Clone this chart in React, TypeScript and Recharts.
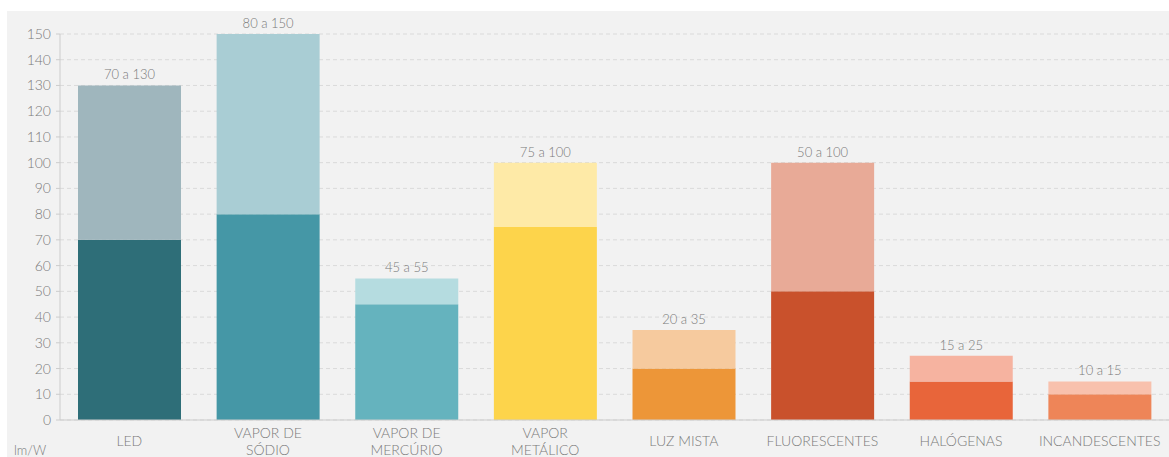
import { BarChart, Bar, XAxis, YAxis, CartesianGrid, Cell, LabelList } from 'recharts';

const categories = ['LED', 'VAPOR DE|SÓDIO', 'VAPOR DE|MERCÚRIO', 'VAPOR|METÁLICO', 'LUZ MISTA', 'FLUORESCENTES', 'HALÓGENAS', 'INCANDESCENTES'];
const minValues = [70, 80, 45, 75, 20, 50, 15, 10];
const maxValues = [130, 150, 55, 100, 35, 100, 25, 15];
const yTicks = [0, 10, 20, 30, 40, 50, 60, 70, 80, 90, 100, 110, 120, 130, 140, 150];

const baseColors = ['#2e6e78', '#4597a6', '#65b3be', '#fdd44b', '#ed9638', '#c9512c', '#e8653a', '#ee8558'];
const topColors = ['#9fb6bd', '#a9cdd4', '#b5dce0', '#feeaa7', '#f6ca9e', '#e8aa97', '#f6b3a0', '#f8c1ad'];

const data = categories.map((name, i) => ({
  name,
  min: minValues[i],
  max: maxValues[i],
  base: minValues[i],
  extra: maxValues[i] - minValues[i],
}));

const FONT = 'Lato, "Open Sans", sans-serif';

function CategoryTick(props: any) {
  const { x, y, payload } = props;
  const lines = String(payload.value).split('|');
  const startY = lines.length === 1 ? 18 : 10;
  return (
    <g transform={`translate(${x},${y})`}>
      {lines.map((l, i) => (
        <text key={i} x={0} y={startY + i * 17} textAnchor="middle" fill="#7a7a7a" fontSize={14} fontFamily={FONT} fontWeight={300}>
          {l}
        </text>
      ))}
    </g>
  );
}

function RangeLabel(props: any) {
  const { x, y, width, index } = props;
  return (
    <text x={x + width / 2} y={y - 6} textAnchor="middle" fill="#7a7a7a" fontSize={13} fontFamily={FONT} fontWeight={300}>
      {`${minValues[index]} a ${maxValues[index]}`}
    </text>
  );
}

export default function App() {
  return (
    <div style={{ position: 'absolute', left: 7, top: 11, width: 1162, height: 446, background: '#f2f2f2' }}>
      <BarChart width={1162} height={446} data={data} margin={{ top: 23, right: 0, left: 0, bottom: 0 }} barCategoryGap={18}>
        <CartesianGrid vertical={false} strokeDasharray="4 3" stroke="#dadada" />
        <XAxis dataKey="name" tick={<CategoryTick />} tickLine={false} axisLine={{ stroke: '#cccccc' }} height={37} interval={0} />
        <YAxis
          domain={[0, 150]}
          ticks={yTicks}
          interval={0}
          width={53}
          tick={{ fill: '#7a7a7a', fontSize: 14, fontFamily: FONT, fontWeight: 300 }}
          tickLine={{ stroke: '#cccccc' }}
          tickSize={4}
          tickMargin={5}
          axisLine={{ stroke: '#cccccc' }}
        />
        <Bar dataKey="base" stackId="a" isAnimationActive={false}>
          {data.map((_, i) => (
            <Cell key={i} fill={baseColors[i]} />
          ))}
        </Bar>
        <Bar dataKey="extra" stackId="a" isAnimationActive={false}>
          {data.map((_, i) => (
            <Cell key={i} fill={topColors[i]} />
          ))}
          <LabelList dataKey="max" content={<RangeLabel />} />
        </Bar>
      </BarChart>
      <div style={{ position: 'absolute', left: 7, top: 431, fontSize: 13, color: '#7a7a7a', fontFamily: FONT, fontWeight: 300 }}>lm/W</div>
    </div>
  );
}
